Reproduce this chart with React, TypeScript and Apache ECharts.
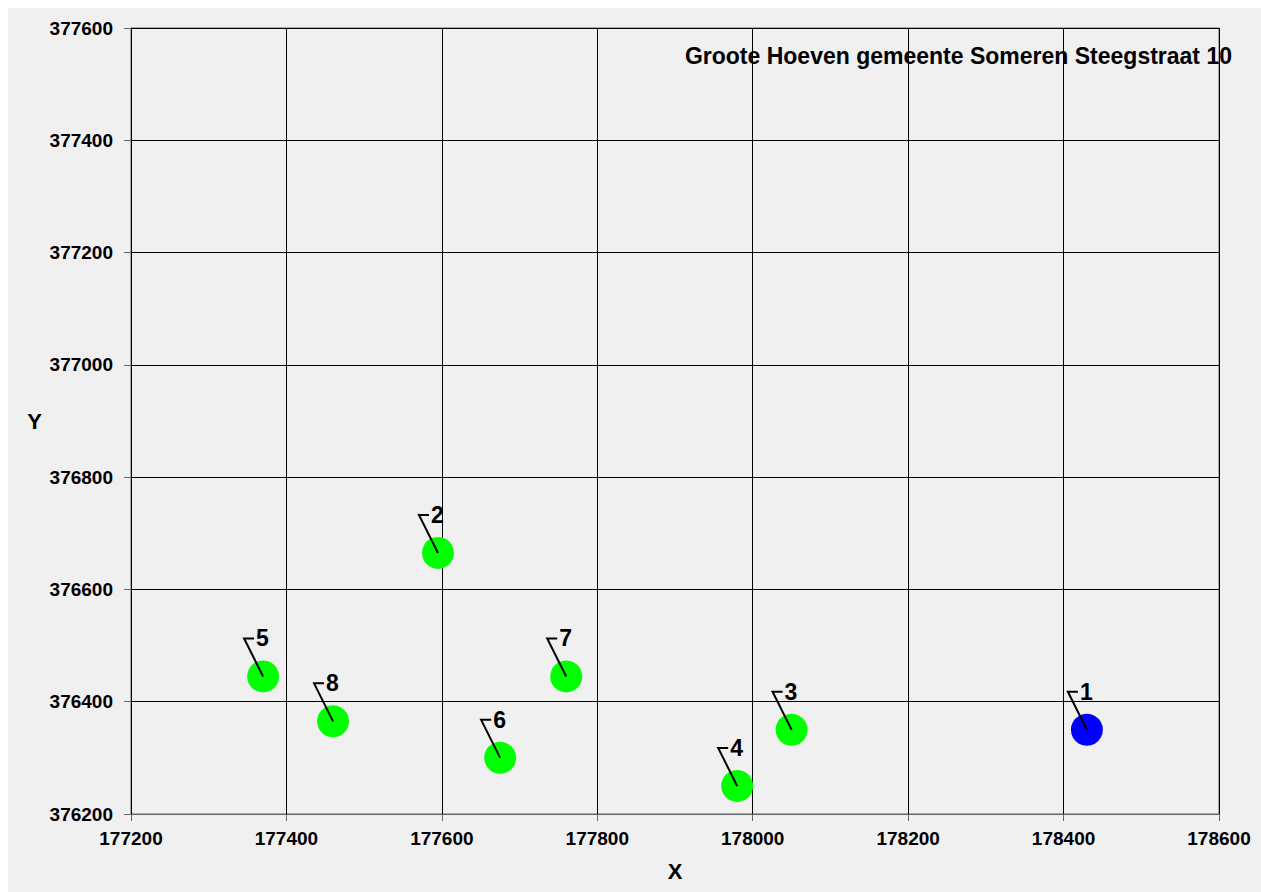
import React, { useEffect, useRef } from "react";
import * as echarts from "echarts";

const pointIds = ["1", "2", "3", "4", "5", "6", "7", "8"];
const xValues = [178430, 177595, 178050, 177980, 177370, 177675, 177760, 177460];
const yValues = [376350, 376665, 376350, 376250, 376445, 376300, 376445, 376365];
const pointColors = ["#0000ff", "#00ff00", "#00ff00", "#00ff00", "#00ff00", "#00ff00", "#00ff00", "#00ff00"];
const titleText = "Groote Hoeven gemeente Someren Steegstraat 10";
const xRange = [177200, 178600];
const yRange = [376200, 377600];
const FONT = "'Liberation Sans', Arial, sans-serif";

export default function App() {
  const ref = useRef<HTMLDivElement>(null);
  useEffect(() => {
    if (!ref.current) return;
    const chart = echarts.init(ref.current, null, { renderer: "svg" });
    const data = xValues.map((x, i) => [x, yValues[i], i]);
    chart.setOption({
      animation: false,
      backgroundColor: "#f0f0f0",
      title: {
        text: titleText,
        right: 24,
        top: 31,
        textStyle: { fontSize: 23, fontWeight: "bold", fontFamily: FONT, color: "#000" },
      },
      grid: {
        left: 123,
        right: 42,
        top: 20,
        bottom: 78,
        show: true,
        borderColor: "#666",
        borderWidth: 1,
        backgroundColor: "transparent",
      },
      xAxis: {
        type: "value",
        min: xRange[0],
        max: xRange[1],
        interval: 200,
        name: "X",
        nameLocation: "middle",
        nameGap: 46,
        nameTextStyle: { fontSize: 22, fontWeight: "bold", fontFamily: FONT, color: "#000" },
        axisLine: { show: true, lineStyle: { color: "#666", width: 1 } },
        axisTick: { show: true, length: 7, lineStyle: { color: "#666" } },
        axisLabel: {
          margin: 15,
          fontSize: 19,
          fontWeight: "bold",
          fontFamily: FONT,
          color: "#000",
          formatter: (v: number) => String(v),
        },
        splitLine: { show: true, lineStyle: { color: "#000", width: 1 } },
      },
      yAxis: {
        type: "value",
        min: yRange[0],
        max: yRange[1],
        interval: 200,
        name: "Y",
        nameLocation: "middle",
        nameRotate: 0,
        nameGap: 89,
        nameTextStyle: { fontSize: 22, fontWeight: "bold", fontFamily: FONT, color: "#000" },
        axisLine: { show: true, lineStyle: { color: "#000", width: 1 } },
        axisTick: { show: true, length: 7, lineStyle: { color: "#666" } },
        axisLabel: {
          margin: 18,
          fontSize: 19,
          fontWeight: "bold",
          fontFamily: FONT,
          color: "#000",
          formatter: (v: number) => String(v),
        },
        splitLine: { show: true, lineStyle: { color: "#000", width: 1 } },
      },
      series: [
        {
          type: "custom",
          clip: false,
          encode: { x: 0, y: 1 },
          data,
          renderItem: (params: any, api: any) => {
            const idx = api.value(2);
            const p = api.coord([api.value(0), api.value(1)]);
            return {
              type: "group",
              children: [
                {
                  type: "circle",
                  shape: { cx: p[0], cy: p[1], r: 16 },
                  style: { fill: pointColors[idx] },
                },
                {
                  type: "polyline",
                  shape: {
                    points: [
                      [p[0], p[1]],
                      [p[0] - 19, p[1] - 38],
                      [p[0] - 9, p[1] - 38],
                    ],
                  },
                  style: { stroke: "#000", lineWidth: 2, fill: null },
                },
                {
                  type: "text",
                  x: p[0] - 7,
                  y: p[1] - 38,
                  style: {
                    text: pointIds[idx],
                    fontSize: 23,
                    fontWeight: "bold",
                    fontFamily: FONT,
                    fill: "#000",
                    align: "left",
                    verticalAlign: "middle",
                  },
                },
              ],
            };
          },
        },
      ],
    });
    return () => chart.dispose();
  }, []);
  return (
    <div
      ref={ref}
      style={{ position: "fixed", left: 8, top: 8, width: 1253, height: 884 }}
    />
  );
}
